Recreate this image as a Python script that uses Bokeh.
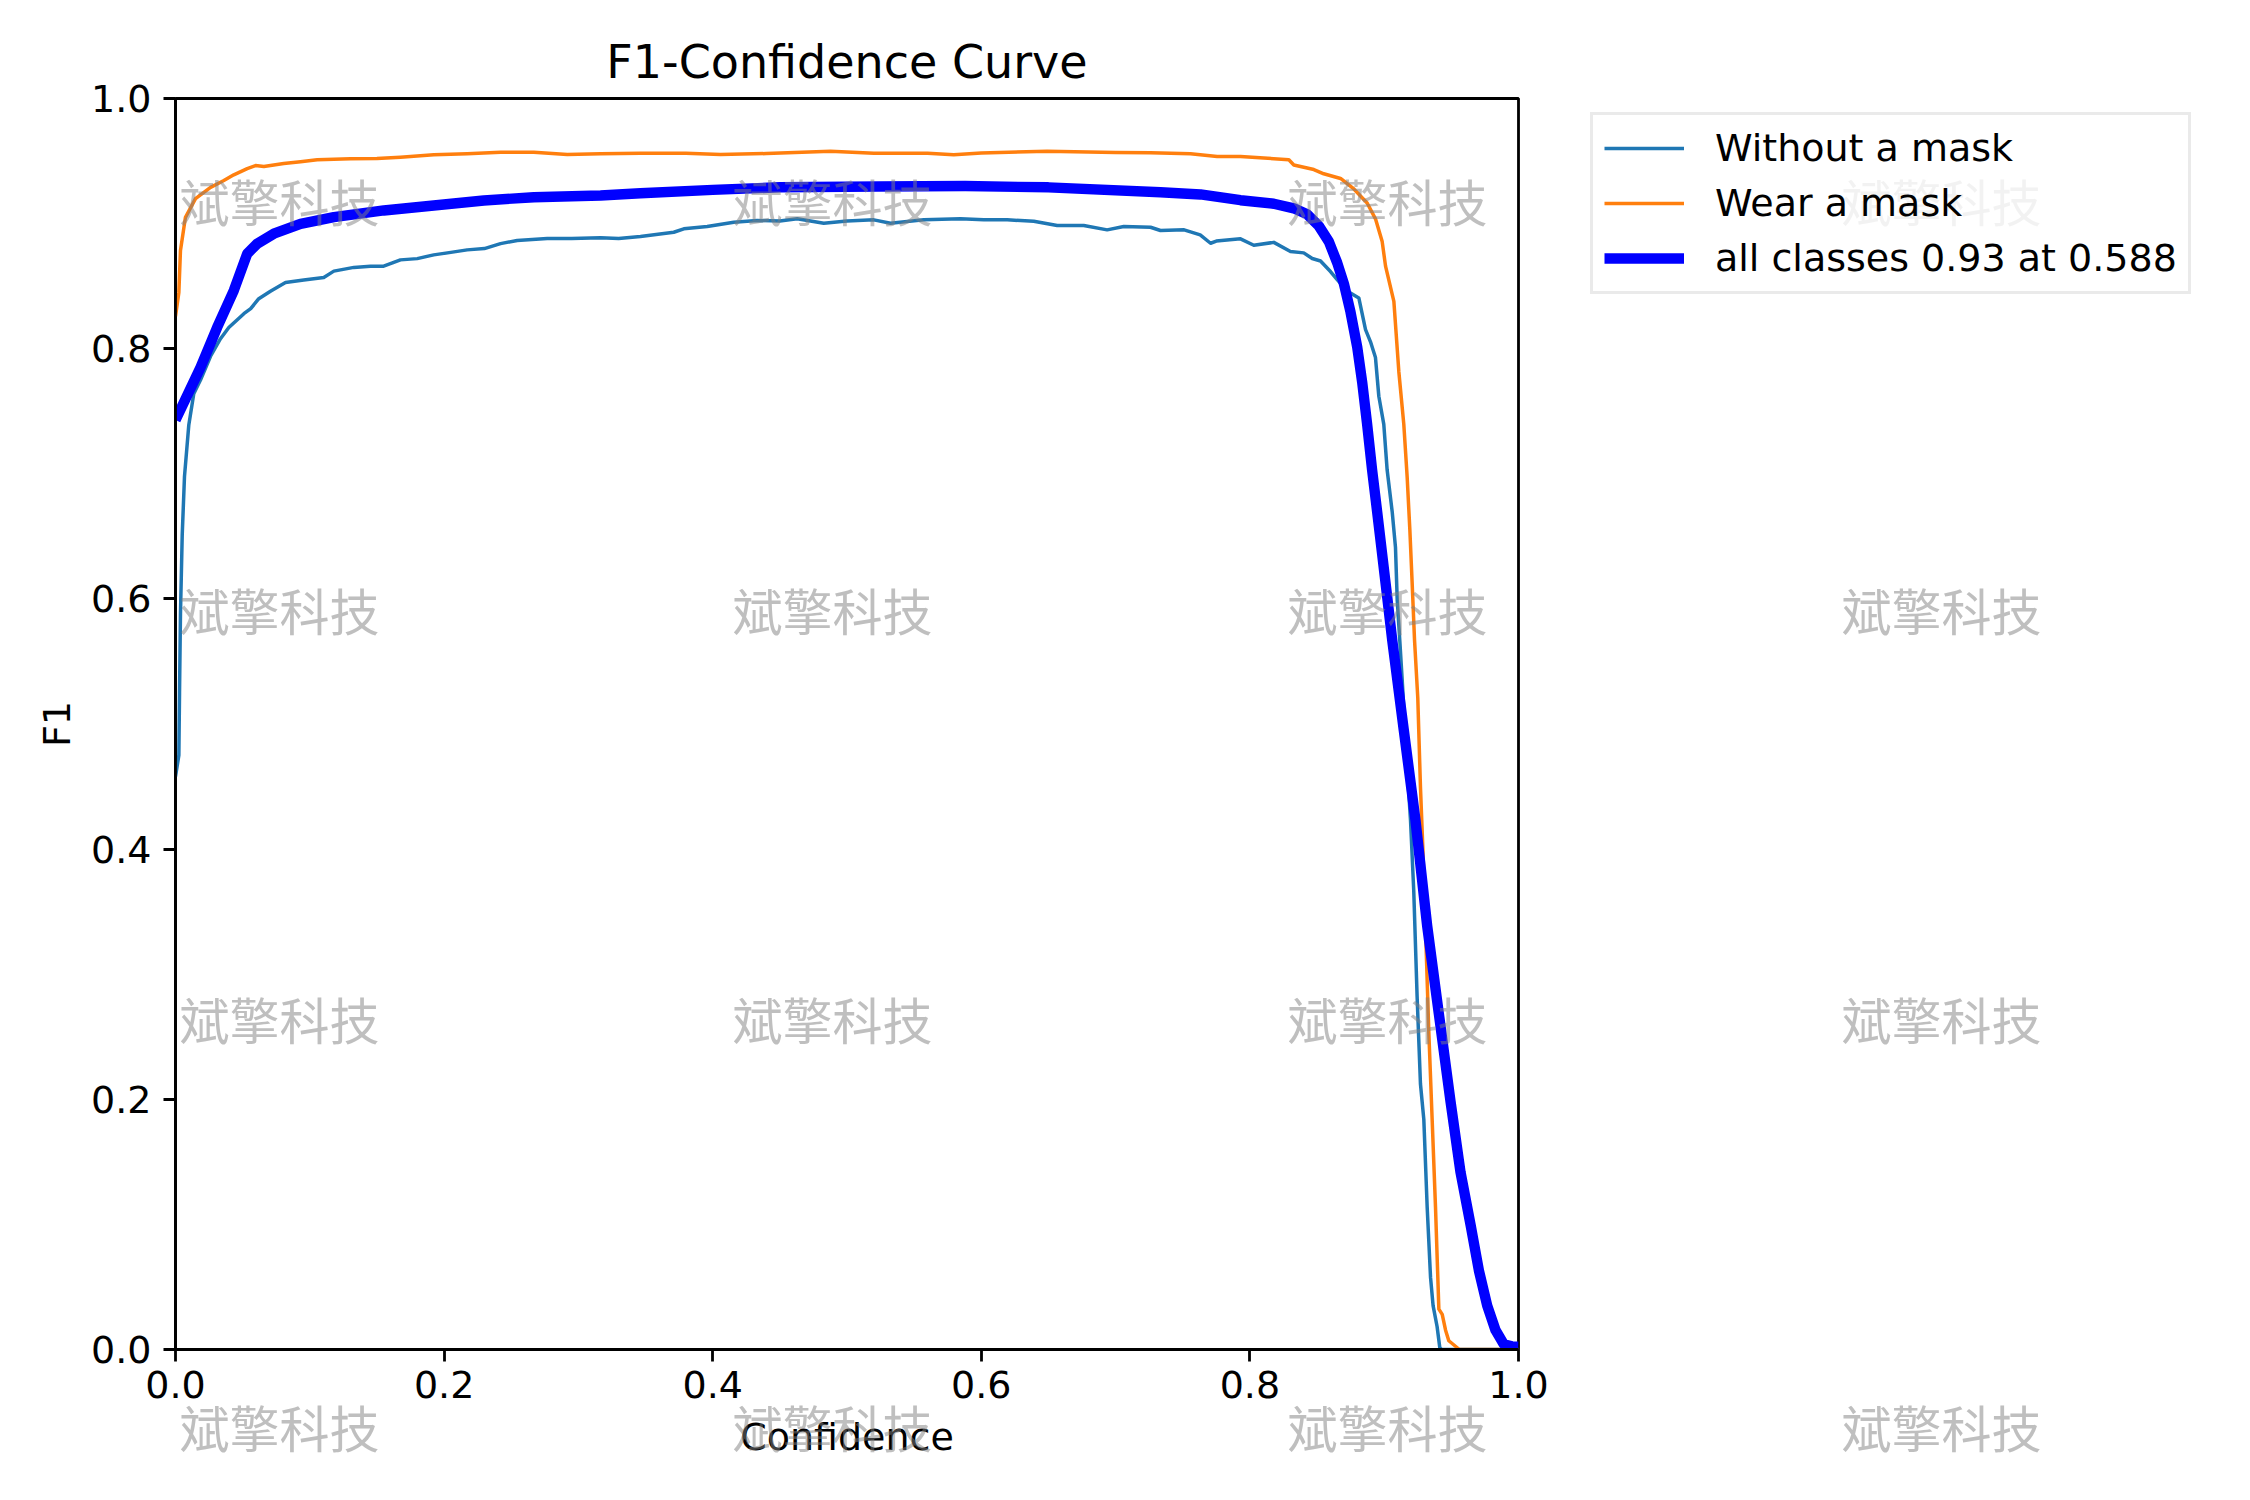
from bokeh.plotting import figure
from bokeh.models import Legend, LegendItem, FixedTicker, PrintfTickFormatter, Range1d
from bokeh.core.properties import value
from bokeh.embed import file_html
from bokeh.resources import INLINE

# values
ticks = [0.0, 0.2, 0.4, 0.6, 0.8, 1.0]

conf_without = [0.0, 0.0025, 0.003, 0.0037, 0.005, 0.0067, 0.0099, 0.0136, 0.0186, 0.0261,
                0.0335, 0.0397, 0.0509, 0.056, 0.062, 0.0707, 0.0819, 0.0955, 0.1104, 0.1179,
                0.1328, 0.1452, 0.155, 0.1675, 0.18, 0.1923, 0.205, 0.2172, 0.23, 0.242,
                0.2544, 0.2768, 0.295, 0.3165, 0.33, 0.3462, 0.371, 0.3785, 0.3959, 0.4157,
                0.4331, 0.45, 0.4629, 0.4827, 0.50, 0.52, 0.5324, 0.5572, 0.5845, 0.6019,
                0.6193, 0.6391, 0.6565, 0.6763, 0.6937, 0.7061, 0.726, 0.7334, 0.751, 0.763,
                0.7707, 0.775, 0.793, 0.8029, 0.8178, 0.8302, 0.8401, 0.8464, 0.8526, 0.86,
                0.865, 0.8724, 0.8811, 0.8861, 0.8898, 0.8935, 0.896, 0.8997, 0.9022, 0.906,
                0.9084, 0.9097, 0.9116, 0.9134, 0.917, 0.9196, 0.922, 0.9245, 0.927, 0.9295,
                0.932, 0.9345, 0.9364, 0.9394, 0.9414, 0.943, 1.0]
f1_without = [0.458, 0.475, 0.525, 0.588, 0.651, 0.698, 0.739, 0.764, 0.775, 0.794,
              0.808, 0.817, 0.828, 0.832, 0.840, 0.846, 0.853, 0.855, 0.857, 0.862,
              0.865, 0.866, 0.866, 0.871, 0.872, 0.875, 0.877, 0.879, 0.880, 0.884,
              0.8865, 0.888, 0.888, 0.8886, 0.888, 0.8897, 0.8931, 0.8958, 0.8977, 0.9011,
              0.9025, 0.902, 0.9038, 0.9003, 0.902, 0.903, 0.9003, 0.903, 0.9038, 0.903,
              0.903, 0.9019, 0.8985, 0.8985, 0.895, 0.8977, 0.8971, 0.8945, 0.895, 0.891,
              0.8843, 0.886, 0.8878, 0.8827, 0.885, 0.8777, 0.8766, 0.8721, 0.8701, 0.8617,
              0.8553, 0.8462, 0.8406, 0.8153, 0.8055, 0.7929, 0.762, 0.7395, 0.703, 0.6692,
              0.6412, 0.599, 0.5668, 0.5353, 0.4674, 0.4229, 0.3667, 0.2824, 0.2122, 0.184,
              0.1138, 0.0576, 0.0351, 0.0182, 0.0014, 0.0, 0.0]

conf_wear = [0.0, 0.0025, 0.0037, 0.0074, 0.0149, 0.0261, 0.036, 0.0434, 0.0534, 0.0596,
             0.0658, 0.0806, 0.0931, 0.1055, 0.1303, 0.15, 0.1675, 0.1923, 0.2172, 0.242,
             0.2668, 0.2917, 0.3165, 0.3462, 0.38, 0.4058, 0.44, 0.4877, 0.52, 0.56,
             0.5795, 0.60, 0.649, 0.70, 0.726, 0.7558, 0.7756, 0.793, 0.8104, 0.829,
             0.8327, 0.8476, 0.855, 0.8675, 0.8774, 0.8873, 0.8935, 0.8985, 0.901, 0.9072,
             0.9109, 0.9146, 0.9171, 0.9191, 0.9208, 0.9226, 0.925, 0.927, 0.9288, 0.9307,
             0.9332, 0.9357, 0.9382, 0.9407, 0.9432, 0.9457, 0.9481, 0.9544, 0.956, 1.0]
f1_wear = [0.826, 0.845, 0.8785, 0.905, 0.920, 0.929, 0.9345, 0.939, 0.944, 0.9464,
           0.9456, 0.948, 0.9495, 0.951, 0.9518, 0.952, 0.9531, 0.955, 0.9558, 0.9571,
           0.9571, 0.9552, 0.9558, 0.9563, 0.9562, 0.9552, 0.956, 0.9579, 0.9563, 0.9563,
           0.955, 0.9565, 0.9579, 0.9568, 0.9566, 0.9558, 0.9536, 0.9536, 0.9524, 0.951,
           0.9468, 0.9432, 0.9398, 0.9361, 0.9277, 0.9165, 0.9038, 0.8856, 0.866, 0.8378,
           0.7816, 0.7395, 0.6974, 0.6552, 0.613, 0.5668, 0.521, 0.4495, 0.400, 0.3386,
           0.2543, 0.184, 0.1138, 0.0323, 0.0281, 0.0154, 0.007, 0.0014, 0.0, 0.0]

conf_all = [0.0, 0.0186, 0.031, 0.0434, 0.0534, 0.0608, 0.0732, 0.0931, 0.1179, 0.1551,
            0.1923, 0.2296, 0.2668, 0.3165, 0.3462, 0.40, 0.45, 0.5236, 0.588, 0.65,
            0.7334, 0.7632, 0.793, 0.8178, 0.8327, 0.8426, 0.8513, 0.8588, 0.865, 0.87,
            0.8749, 0.8799, 0.8836, 0.8873, 0.891, 0.8948, 0.8985, 0.9022, 0.906, 0.9146,
            0.9233, 0.932, 0.9407, 0.9494, 0.9568, 0.9643, 0.9705, 0.9767, 0.9829, 0.989,
            0.995, 1.0]
f1_all = [0.743, 0.785, 0.817, 0.8465, 0.8759, 0.8839, 0.8919, 0.8998, 0.9051, 0.9105,
          0.9145, 0.9185, 0.9211, 0.9225, 0.9243, 0.927, 0.929, 0.9297, 0.930, 0.929,
          0.9251, 0.9233, 0.9187, 0.9159, 0.9122, 0.9075, 0.8982, 0.8856, 0.8687, 0.8519,
          0.8294, 0.8013, 0.7732, 0.7395, 0.703, 0.6692, 0.6355, 0.6018, 0.5668, 0.495,
          0.4229, 0.3386, 0.2683, 0.1981, 0.1419, 0.0998, 0.0632, 0.0351, 0.0154, 0.0042,
          0.0025, 0.0022]

labels = ["Without a mask", "Wear a mask", "all classes 0.93 at 0.588"]
watermark = "斌擎科技"
# watermark grid, pixel offsets from the frame's bottom-left corner
wm_cols = [4, 557, 1112, 1666]
wm_rows = [1150, 741, 332, -76]

FONT = "DejaVu Sans"
LEFT, TOP, RIGHT, BOTTOM = 175, 98, 716, 135
FW, FH = 1343, 1251

p = figure(
    frame_width=FW, frame_height=FH,
    x_range=Range1d(0, 1), y_range=Range1d(0, 1),
    min_border_left=LEFT, min_border_right=RIGHT,
    min_border_top=TOP, min_border_bottom=BOTTOM,
    output_backend="svg", toolbar_location=None,
    title="F1-Confidence Curve",
    x_axis_label="Confidence", y_axis_label="F1",
)
p.background_fill_color = "white"
p.border_fill_color = "white"
p.outline_line_color = "black"
p.outline_line_width = 2.8
p.outline_line_alpha = 1.0
p.xgrid.visible = False
p.ygrid.visible = False

p.title.align = "center"
p.title.text_font = FONT
p.title.text_font_size = "46px"
p.title.text_font_style = "normal"
p.title.text_color = "black"
p.title.standoff = 19

for ax in (p.xaxis[0], p.yaxis[0]):
    ax.ticker = FixedTicker(ticks=ticks)
    ax.formatter = PrintfTickFormatter(format="%.1f")
    ax.major_label_text_font = FONT
    ax.major_label_text_font_size = "38px"
    ax.major_label_text_color = "black"
    ax.axis_label_text_font = FONT
    ax.axis_label_text_font_size = "38px"
    ax.axis_label_text_font_style = "normal"
    ax.axis_label_text_color = "black"
    ax.axis_line_width = 2.8
    ax.major_tick_line_width = 2.8
    ax.major_tick_out = 12
    ax.major_tick_in = 0
    ax.minor_tick_line_color = None
p.xaxis.major_label_standoff = 9
p.yaxis.major_label_standoff = 12
p.xaxis.axis_label_standoff = 14
p.yaxis.axis_label_standoff = 9

r1 = p.line(conf_without, f1_without, line_color="#1f77b4", line_width=3.5, line_join="round")
r2 = p.line(conf_wear, f1_wear, line_color="#ff7f0e", line_width=3.5, line_join="round")
r3 = p.line(conf_all, f1_all, line_color="#0000ff", line_width=10.4, line_join="round")

legend = Legend(
    items=[LegendItem(label=labels[0], renderers=[r1]),
           LegendItem(label=labels[1], renderers=[r2]),
           LegendItem(label=labels[2], renderers=[r3])],
    location=(72, 1055),
    label_text_font=FONT, label_text_font_size="38px", label_text_color="black",
    glyph_width=80, glyph_height=42, label_height=42,
    label_standoff=31, spacing=11, padding=11, margin=0,
    border_line_color="#d6d6d6", border_line_width=3,
    background_fill_alpha=0.8,
)
p.add_layout(legend, "right")

# watermark, drawn on the overlay level so it is not cut at the frame
wm_x, wm_y = [], []
for cx in wm_cols:
    for cy in wm_rows:
        wm_x.append(cx / FW)
        wm_y.append(cy / FH)
p.text(x=wm_x, y=wm_y, text=[watermark] * len(wm_x),
       text_font=value("Noto Sans CJK SC"), text_font_size=value("50px"),
       text_color="#808080", text_alpha=0.5, text_baseline="middle",
       level="overlay")

open("out.html", "w").write(file_html(p, INLINE))
